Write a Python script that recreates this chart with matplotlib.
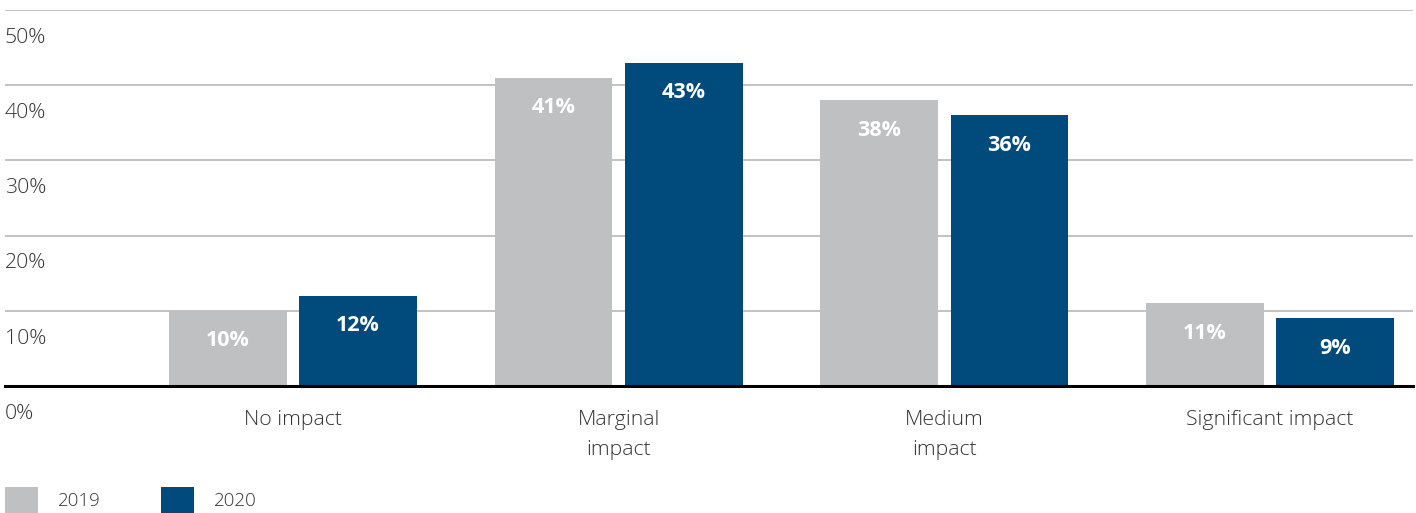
import matplotlib
matplotlib.use("Agg")
import matplotlib.pyplot as plt
import numpy as np

categories = ["No impact", "Marginal\nimpact", "Medium\nimpact", "Significant impact"]
series_names = ["2019", "2020"]
values_2019 = [10, 41, 38, 11]
values_2020 = [12, 43, 36, 9]
y_ticks = [0, 10, 20, 30, 40, 50]
y_tick_labels = ["0%", "10%", "20%", "30%", "40%", "50%"]

colors = ["#BFC0C2", "#004A7C"]
plt.rcParams['font.family'] = ['Open Sans', 'DejaVu Sans']

W, H = 1416, 513
fig = plt.figure(figsize=(W / 100, H / 100), dpi=100)
ax = fig.add_axes([5 / W, 1 - 386 / H, (1413 - 5) / W, (386 - 10) / H])

x = np.arange(len(categories))
width = 0.362
offset = 0.2
bars = []
for i, (vals, name) in enumerate(zip([values_2019, values_2020], series_names)):
    b = ax.bar(x + (i * 2 - 1) * offset, vals, width, color=colors[i], label=name, zorder=3)
    bars.append(b)
    for rect, v in zip(b, vals):
        ax.annotate(f"{v}%", (rect.get_x() + rect.get_width() / 2, v),
                    xytext=(0, -21.5), textcoords="offset points",
                    ha="center", va="center", color="white", fontsize=15.5,
                    fontweight="bold", zorder=4)

ax.set_xlim(-0.884, 3.439)
ax.set_ylim(0, 50)
ax.set_yticks(y_ticks)
ax.set_yticklabels([])
for yv, lab in zip(y_ticks, y_tick_labels):
    ax.annotate(lab, (0, yv), xycoords=("axes fraction", "data"),
                xytext=(0, -20), textcoords="offset points",
                ha="left", va="center", fontsize=15.3, color="#333333",
                fontweight="light")
ax.grid(axis="y", color="#BDBDBD", linewidth=1.3, zorder=0)
ax.set_xticks(x)
ax.set_xticklabels(categories, fontsize=15.3, color="#333333", linespacing=1.7,
                   fontweight="light")
ax.tick_params(axis="x", length=0, pad=17)
ax.tick_params(axis="y", length=0)
for s in ["top", "right", "left"]:
    ax.spines[s].set_visible(False)
ax.spines["bottom"].set_color("black")
ax.spines["bottom"].set_linewidth(2.2)
ax.spines["bottom"].set_zorder(5)

leg = fig.legend(handles=bars, labels=series_names, loc="center left",
                 bbox_to_anchor=(5 / W, 1 - 500.5 / H), ncol=2, frameon=False,
                 handlelength=1.76, handleheight=1.9,
                 handletextpad=1.07, columnspacing=3.2, borderpad=0,
                 borderaxespad=0, labelcolor="#333333",
                 prop={"size": 13.5, "weight": "light"})

fig.savefig("out.png", dpi=100)
